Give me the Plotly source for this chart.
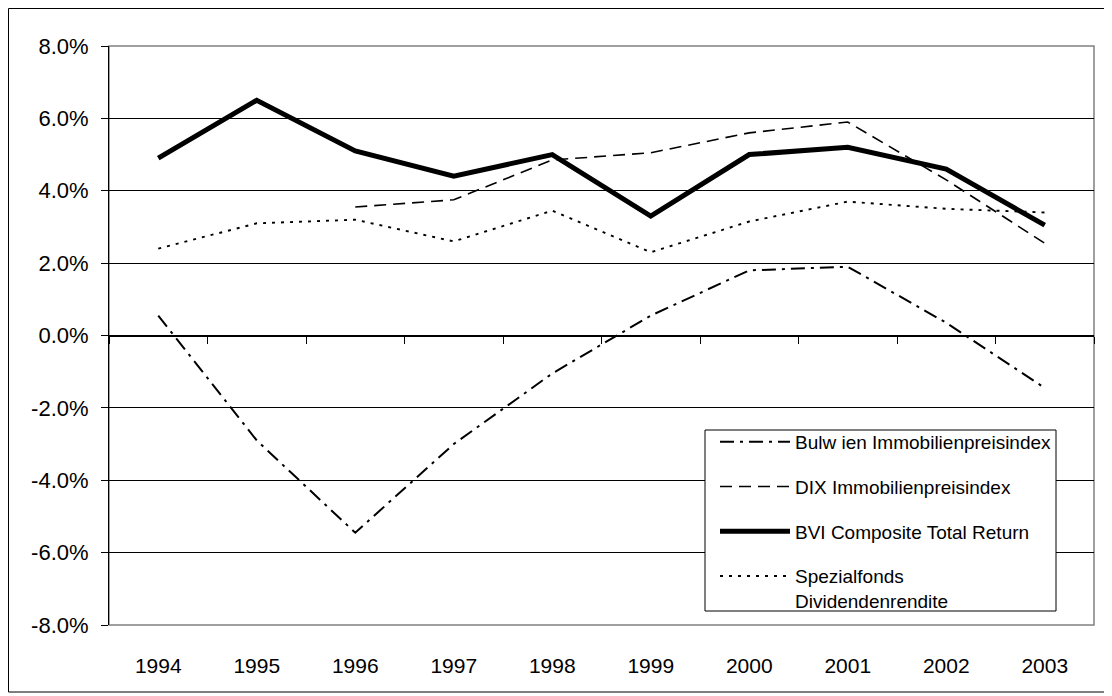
import plotly.graph_objects as go

years = ["1994", "1995", "1996", "1997", "1998", "1999", "2000", "2001", "2002", "2003"]

# values in percent
bulwien = [0.55, -2.9, -5.45, -3.0, -1.05, 0.55, 1.8, 1.9, 0.35, -1.45]
dix = [None, None, 3.55, 3.75, 4.85, 5.05, 5.6, 5.9, 4.3, 2.55]
bvi = [4.9, 6.5, 5.1, 4.4, 5.0, 3.3, 5.0, 5.2, 4.6, 3.05]
spezial = [2.4, 3.1, 3.2, 2.6, 3.45, 2.3, 3.15, 3.7, 3.5, 3.4]

y_ticks = [-8, -6, -4, -2, 0, 2, 4, 6, 8]
y_tick_text = ["-8.0%", "-6.0%", "-4.0%", "-2.0%", "0.0%", "2.0%", "4.0%", "6.0%", "8.0%"]

names = [
    "Bulw ien Immobilienpreisindex",
    "DIX Immobilienpreisindex",
    "BVI Composite Total Return",
    "Spezialfonds<br>Dividendenrendite",
]

# the page body has an 8px margin, so the figure is shifted by that much
OFF = 8
W, H = 1112 - OFF, 696 - OFF
L, R, T, B = 109 - OFF, 1094 - OFF, 46 - OFF, 625 - OFF
FONT = "Arial, Liberation Sans, sans-serif"


def px_x(p):
    return (p - OFF - L) / (R - L)


def px_y(p):
    return (B - (p - OFF)) / (B - T)


fig = go.Figure()
series = [
    (bulwien, dict(color="black", width=2, dash="14px,6px,3px,6px")),
    (dix, dict(color="black", width=1.6, dash="12px,7px")),
    (bvi, dict(color="black", width=5)),
    (spezial, dict(color="black", width=1.9, dash="3px,6px")),
]
for i, (vals, line) in enumerate(series):
    fig.add_trace(
        go.Scatter(
            x=years,
            y=vals,
            mode="lines",
            name=names[i],
            line=line,
            legendgroup=f"g{i}",
            connectgaps=False,
        )
    )

# invisible trace to carry the category ticks that sit on the 0 % line
fig.add_trace(
    go.Scatter(
        x=years, y=bvi, xaxis="x2", mode="lines",
        line=dict(color="rgba(0,0,0,0)"), showlegend=False, hoverinfo="skip",
    )
)

fig.update_layout(
    width=W,
    height=H,
    margin=dict(l=L, r=W - R, t=T, b=H - B),
    paper_bgcolor="white",
    plot_bgcolor="white",
    font=dict(family=FONT, size=20, color="black"),
    showlegend=True,
    legend=dict(
        x=px_x(715),
        y=px_y(423),
        xanchor="left",
        yanchor="top",
        borderwidth=0,
        bgcolor="rgba(0,0,0,0)",
        font=dict(family=FONT, size=19, color="black"),
        itemwidth=70,
        tracegroupgap=17,
        valign="top",
    ),
    xaxis=dict(
        type="category",
        range=[-0.5, 9.5],
        showgrid=False,
        showline=False,
        ticks="",
        ticklabelstandoff=26,
        tickfont=dict(family=FONT, size=21),
        zeroline=False,
    ),
    xaxis2=dict(
        type="category",
        overlaying="x",
        anchor="free",
        position=0.5,
        range=[-0.5, 9.5],
        showgrid=False,
        showline=True,
        linecolor="black",
        linewidth=1,
        ticks="outside",
        tickson="boundaries",
        ticklen=7,
        tickcolor="black",
        showticklabels=False,
        zeroline=False,
    ),
    yaxis=dict(
        range=[-8, 8],
        tickmode="array",
        tickvals=y_ticks,
        ticktext=y_tick_text,
        showgrid=True,
        gridcolor="black",
        gridwidth=1,
        showline=True,
        linecolor="black",
        linewidth=1,
        ticks="outside",
        ticklen=7,
        tickcolor="black",
        ticklabelstandoff=8,
        tickfont=dict(family=FONT, size=22),
        zeroline=False,
    ),
    shapes=[
        # plot area frame (grey, Excel style), over the gridlines
        dict(type="rect", xref="paper", yref="paper", x0=0, x1=1, y0=0, y1=1,
             line=dict(color="#808080", width=1.5), layer="between"),
        # legend box, white so it hides the gridlines behind it
        dict(type="rect", xref="paper", yref="paper",
             x0=px_x(705), x1=px_x(1056), y0=px_y(611), y1=px_y(430),
             line=dict(color="black", width=1), fillcolor="white", layer="above"),
        # outer chart frame
        dict(type="rect", xref="paper", yref="paper",
             x0=px_x(8.5), x1=px_x(1105), y0=px_y(692), y1=px_y(8.5),
             line=dict(color="black", width=1), layer="below"),
    ],
)

fig.write_html("out.html")
